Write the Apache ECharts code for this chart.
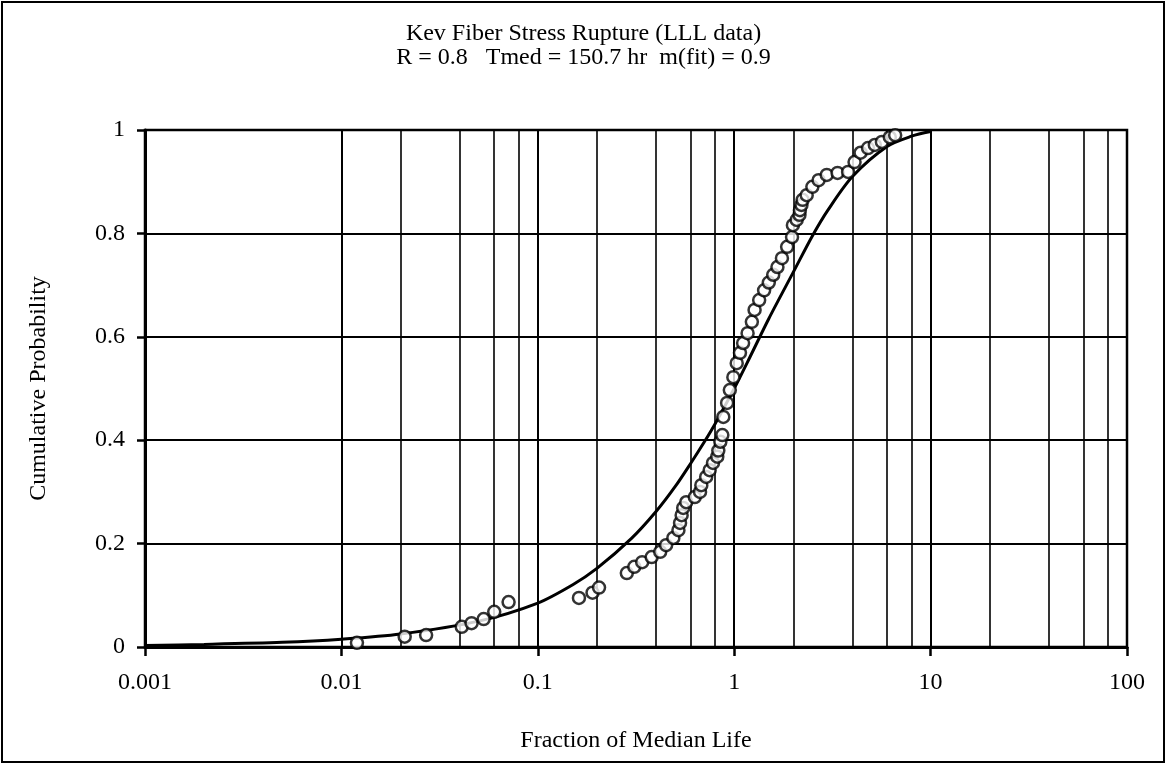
<!DOCTYPE html>
<html>
<head>
<meta charset="utf-8">
<script src="https://cdn.jsdelivr.net/npm/echarts@6/dist/echarts.min.js"></script>
<style>
  html, body { margin: 0; padding: 0; background: #fff; }
  #chart { width: 1167px; height: 775px; }
</style>
</head>
<body>
<div id="chart"></div>
<script>
// observed failures: fraction of median life vs cumulative probability
const pointX = [
  0.012, 0.021, 0.027, 0.041, 0.046, 0.053, 0.060, 0.071,
  0.162, 0.19, 0.205,
  0.284, 0.31, 0.34, 0.38, 0.42, 0.45, 0.49, 0.52, 0.53, 0.54, 0.55, 0.57,
  0.63, 0.67, 0.68, 0.72, 0.75, 0.78, 0.82, 0.83, 0.85, 0.87,
  0.88, 0.92, 0.95, 0.99, 1.03, 1.07, 1.11, 1.17, 1.23, 1.27, 1.34, 1.42,
  1.5, 1.58, 1.66, 1.75, 1.86, 1.97,
  1.99, 2.08, 2.15, 2.16, 2.2, 2.23, 2.34, 2.5, 2.69, 2.96, 3.36, 3.8,
  4.1, 4.4, 4.8, 5.2, 5.65, 6.2, 6.6
];
const pointY = [
  0.008, 0.02, 0.023, 0.039, 0.046, 0.054, 0.068, 0.087,
  0.095, 0.105, 0.115,
  0.143, 0.155, 0.164, 0.174, 0.184, 0.197, 0.211, 0.226, 0.24, 0.255, 0.269, 0.28,
  0.29, 0.30, 0.313, 0.329, 0.342, 0.356, 0.368, 0.38, 0.397, 0.41,
  0.445, 0.472, 0.497, 0.522, 0.549, 0.569, 0.588, 0.607, 0.629, 0.652, 0.671, 0.69,
  0.705, 0.72, 0.735, 0.752, 0.774, 0.793,
  0.816, 0.826, 0.836, 0.845, 0.855, 0.865, 0.874, 0.89, 0.903, 0.913, 0.917, 0.919,
  0.938, 0.956, 0.965, 0.971, 0.977, 0.986, 0.99
];

// fitted curve
const curveX = [0.001, 0.002, 0.005, 0.01, 0.02, 0.05, 0.1, 0.15, 0.2, 0.3, 0.4, 0.5, 0.6, 0.7, 0.8, 1, 1.2, 1.5, 2, 2.5, 3, 4, 6, 8, 10];
const curveY = [0.003, 0.005, 0.009, 0.015, 0.025, 0.05, 0.085, 0.12, 0.152, 0.21, 0.262, 0.31, 0.355, 0.395, 0.432, 0.5, 0.56, 0.635, 0.725, 0.795, 0.845, 0.91, 0.968, 0.988, 0.997];

const xTickLabels = ['0.001', '0.01', '0.1', '1', '10', '100'];
const minorGridX = [
  0.002, 0.004, 0.006, 0.008,
  0.02, 0.04, 0.06, 0.08,
  0.2, 0.4, 0.6, 0.8,
  2, 4, 6, 8,
  20, 40, 60, 80
];

const font = '"Liberation Serif", "DejaVu Serif", serif';
const chart = echarts.init(document.getElementById('chart'));

chart.setOption({
  backgroundColor: '#fff',
  animation: false,
  textStyle: { fontFamily: font, color: '#000' },
  title: {
    text: 'Kev Fiber Stress Rupture (LLL data)\nR = 0.8   Tmed = 150.7 hr  m(fit) = 0.9',
    left: 'center',
    top: 17,
    textStyle: { fontFamily: font, fontSize: 24, fontWeight: 'normal', color: '#000', lineHeight: 24 },
  },
  graphic: [{
    type: 'rect',
    shape: { x: 2, y: 2, width: 1162, height: 760 },
    style: { fill: 'none', stroke: '#000', lineWidth: 2 },
    silent: true,
  }],
  grid: {
    left: 145, right: 40, top: 130, bottom: 128,
    show: true, borderColor: '#000', borderWidth: 2.5, backgroundColor: 'transparent',
  },
  xAxis: {
    type: 'log',
    logBase: 10,
    min: 0.001,
    max: 100,
    name: 'Fraction of Median Life',
    nameLocation: 'middle',
    nameGap: 82,
    nameTextStyle: { fontFamily: font, fontSize: 24, color: '#000' },
    axisLine: { lineStyle: { color: '#000', width: 3 } },
    axisTick: { show: true, length: 9, lineStyle: { color: '#000', width: 2.5 } },
    axisLabel: {
      fontFamily: font, fontSize: 24, color: '#000', margin: 24,
      formatter: v => xTickLabels[Math.round(Math.log10(v)) + 3],
    },
    splitLine: { show: true, lineStyle: { color: '#000', width: 2 } },
  },
  yAxis: {
    type: 'value',
    min: 0,
    max: 1,
    interval: 0.2,
    name: 'Cumulative Probability',
    nameLocation: 'middle',
    nameGap: 94,
    nameTextStyle: { fontFamily: font, fontSize: 24, color: '#000' },
    axisLine: { show: true, lineStyle: { color: '#000', width: 3 } },
    axisTick: { show: true, length: 8, lineStyle: { color: '#000', width: 2.5 } },
    axisLabel: { fontFamily: font, fontSize: 24, color: '#000', margin: 20 },
    splitLine: { show: true, lineStyle: { color: '#000', width: 2.2 } },
  },
  series: [
    {
      name: 'fit',
      type: 'line',
      data: curveX.map((x, i) => [x, curveY[i]]),
      smooth: 0.3,
      showSymbol: false,
      lineStyle: { color: '#000', width: 3 },
      z: 3,
      markLine: {
        silent: true,
        symbol: 'none',
        label: { show: false },
        lineStyle: { color: '#000', width: 1.6, type: 'solid' },
        data: minorGridX.map(v => ({ xAxis: v })),
        z: 1,
      },
    },
    {
      name: 'data',
      type: 'scatter',
      data: pointX.map((x, i) => [x, pointY[i]]),
      symbol: 'circle',
      symbolSize: 12,
      itemStyle: { color: '#fff', borderColor: '#000', borderWidth: 2.5 },
      z: 4,
    },
  ],
});
</script>
</body>
</html>
